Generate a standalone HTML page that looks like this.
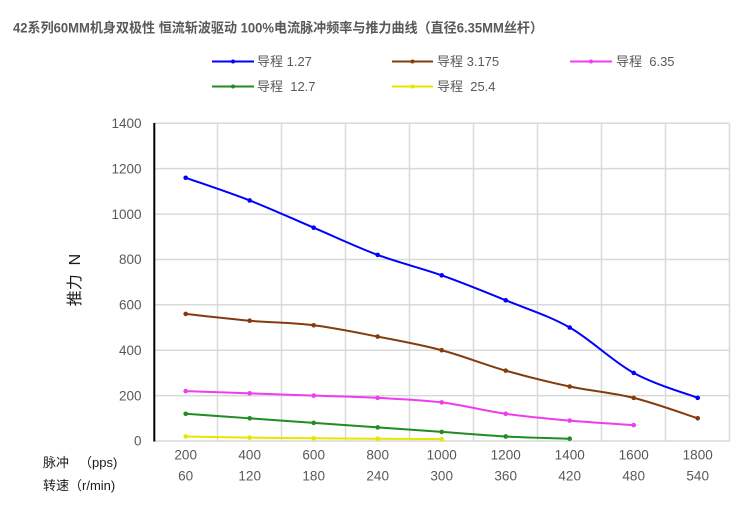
<!DOCTYPE html>
<html><head><meta charset="utf-8"><style>
html,body{margin:0;padding:0;background:#fff;}
svg{display:block;}
text{font-family:"Liberation Sans","Noto Sans CJK SC",sans-serif;}
</style></head><body>
<svg width="750" height="518" viewBox="0 0 750 518" xmlns="http://www.w3.org/2000/svg">
<rect width="750" height="518" fill="#fff"/>
<text x="13" y="32.5" font-size="13.5" font-weight="bold" fill="#595959" textLength="530" lengthAdjust="spacingAndGlyphs">42系列60MM机身双极性 恒流斩波驱动 100%电流脉冲频率与推力曲线（直径6.35MM丝杆）</text>

<!-- legend -->
<g font-size="13" fill="#595959">
<line x1="212" y1="61.5" x2="254" y2="61.5" stroke="#0000ff" stroke-width="2"/><circle cx="233" cy="61.5" r="2" fill="#0000ff"/>
<text x="257" y="66">导程 1.27</text>
<line x1="392" y1="61.5" x2="433" y2="61.5" stroke="#843c0c" stroke-width="2"/><circle cx="412.5" cy="61.5" r="2" fill="#843c0c"/>
<text x="437" y="66">导程 3.175</text>
<line x1="570" y1="61.5" x2="612" y2="61.5" stroke="#f03cf0" stroke-width="2"/><circle cx="591" cy="61.5" r="2" fill="#f03cf0"/>
<text x="616" y="66" xml:space="preserve">导程  6.35</text>
<line x1="212" y1="86.5" x2="254" y2="86.5" stroke="#228b22" stroke-width="2"/><circle cx="233" cy="86.5" r="2" fill="#228b22"/>
<text x="257" y="91" xml:space="preserve">导程  12.7</text>
<line x1="392" y1="86.5" x2="433" y2="86.5" stroke="#e6e600" stroke-width="2"/><circle cx="412.5" cy="86.5" r="2" fill="#e6e600"/>
<text x="437" y="91" xml:space="preserve">导程  25.4</text>
</g>

<!-- grid -->
<g stroke="#d9d9d9" stroke-width="1.5">
<line x1="154" y1="123.3" x2="729.5" y2="123.3"/>
<line x1="154" y1="168.6" x2="729.5" y2="168.6"/>
<line x1="154" y1="214.1" x2="729.5" y2="214.1"/>
<line x1="154" y1="259.5" x2="729.5" y2="259.5"/>
<line x1="154" y1="304.8" x2="729.5" y2="304.8"/>
<line x1="154" y1="350.2" x2="729.5" y2="350.2"/>
<line x1="154" y1="395.6" x2="729.5" y2="395.6"/>
<line x1="154" y1="441" x2="729.5" y2="441"/>
<line x1="217.5" y1="123.3" x2="217.5" y2="441"/>
<line x1="281.5" y1="123.3" x2="281.5" y2="441"/>
<line x1="345.5" y1="123.3" x2="345.5" y2="441"/>
<line x1="409.5" y1="123.3" x2="409.5" y2="441"/>
<line x1="473.5" y1="123.3" x2="473.5" y2="441"/>
<line x1="537.5" y1="123.3" x2="537.5" y2="441"/>
<line x1="601.5" y1="123.3" x2="601.5" y2="441"/>
<line x1="665.5" y1="123.3" x2="665.5" y2="441"/>
<line x1="729.5" y1="123.3" x2="729.5" y2="441"/>
</g>
<line x1="154.3" y1="123" x2="154.3" y2="441.5" stroke="#000" stroke-width="2"/>

<!-- y ticks -->
<g font-size="13.5" fill="#595959" text-anchor="end">
<text x="141.5" y="128">1400</text>
<text x="141.5" y="173.3">1200</text>
<text x="141.5" y="218.8">1000</text>
<text x="141.5" y="264.2">800</text>
<text x="141.5" y="309.5">600</text>
<text x="141.5" y="354.9">400</text>
<text x="141.5" y="400.3">200</text>
<text x="141.5" y="445.7">0</text>
</g>

<!-- x labels -->
<g font-size="13.5" fill="#595959" text-anchor="middle">
<text x="185.7" y="459.5">200</text><text x="249.7" y="459.5">400</text><text x="313.7" y="459.5">600</text><text x="377.7" y="459.5">800</text><text x="441.7" y="459.5">1000</text><text x="505.7" y="459.5">1200</text><text x="569.7" y="459.5">1400</text><text x="633.7" y="459.5">1600</text><text x="697.7" y="459.5">1800</text>
<text x="185.7" y="480.5">60</text><text x="249.7" y="480.5">120</text><text x="313.7" y="480.5">180</text><text x="377.7" y="480.5">240</text><text x="441.7" y="480.5">300</text><text x="505.7" y="480.5">360</text><text x="569.7" y="480.5">420</text><text x="633.7" y="480.5">480</text><text x="697.7" y="480.5">540</text>
</g>
<g font-size="13" fill="#1a1a1a">
<text x="43" y="467">脉冲</text>
<text x="79" y="467">（pps)</text>
<text x="43" y="490">转速（r/min)</text>
</g>
<text transform="translate(80,280) rotate(-90)" font-size="16" fill="#1a1a1a" text-anchor="middle" xml:space="preserve">推力  N</text>

<!-- series -->
<g fill="none" stroke-width="2" stroke-linejoin="round" stroke-linecap="round">
<path stroke="#0000ff" d="M185.7,177.76 C196.37,181.54 228.37,192.13 249.7,200.45 C271.03,208.77 292.37,218.61 313.7,227.69 C335.03,236.77 356.37,246.98 377.7,254.92 C399.03,262.86 420.37,267.78 441.7,275.34 C463.03,282.90 484.37,291.60 505.7,300.30 C527.03,309.00 548.37,315.43 569.7,327.53 C591.03,339.63 612.37,361.19 633.7,372.92 C655.03,384.65 687.03,393.72 697.7,397.88"/>
<path stroke="#843c0c" d="M185.7,313.92 C196.37,315.06 228.37,318.84 249.7,320.73 C271.03,322.62 292.37,322.62 313.7,325.27 C335.03,327.92 356.37,332.45 377.7,336.61 C399.03,340.77 420.37,344.56 441.7,350.23 C463.03,355.90 484.37,364.60 505.7,370.65 C527.03,376.70 548.37,382.00 569.7,386.54 C591.03,391.08 612.37,392.58 633.7,397.88 C655.03,403.18 687.03,414.90 697.7,418.31"/>
<path stroke="#f03cf0" d="M185.7,391.08 C196.37,391.46 228.37,392.59 249.7,393.34 C271.03,394.10 292.37,394.85 313.7,395.61 C335.03,396.37 356.37,396.75 377.7,397.88 C399.03,399.02 420.37,399.77 441.7,402.42 C463.03,405.07 484.37,410.74 505.7,413.77 C527.03,416.80 548.37,418.69 569.7,420.58 C591.03,422.47 623.03,424.36 633.7,425.11"/>
<path stroke="#228b22" d="M185.7,413.77 C196.37,414.53 228.37,416.80 249.7,418.31 C271.03,419.82 292.37,421.34 313.7,422.85 C335.03,424.36 356.37,425.87 377.7,427.38 C399.03,428.89 420.37,430.41 441.7,431.92 C463.03,433.43 484.37,435.33 505.7,436.46 C527.03,437.60 559.03,438.35 569.7,438.73"/>
<path stroke="#e6e600" d="M185.7,436.46 C196.37,436.65 228.37,437.30 249.7,437.60 C271.03,437.90 292.37,438.09 313.7,438.28 C335.03,438.47 356.37,438.58 377.7,438.73 C399.03,438.88 431.03,439.11 441.7,439.18"/>
</g>

<!-- markers -->
<g fill="#0000ff">
<circle cx="185.7" cy="177.76" r="2.3"/><circle cx="249.7" cy="200.45" r="2.3"/><circle cx="313.7" cy="227.69" r="2.3"/><circle cx="377.7" cy="254.92" r="2.3"/><circle cx="441.7" cy="275.34" r="2.3"/><circle cx="505.7" cy="300.30" r="2.3"/><circle cx="569.7" cy="327.53" r="2.3"/><circle cx="633.7" cy="372.92" r="2.3"/><circle cx="697.7" cy="397.88" r="2.3"/>
</g>
<g fill="#843c0c">
<circle cx="185.7" cy="313.92" r="2.3"/><circle cx="249.7" cy="320.73" r="2.3"/><circle cx="313.7" cy="325.27" r="2.3"/><circle cx="377.7" cy="336.61" r="2.3"/><circle cx="441.7" cy="350.23" r="2.3"/><circle cx="505.7" cy="370.65" r="2.3"/><circle cx="569.7" cy="386.54" r="2.3"/><circle cx="633.7" cy="397.88" r="2.3"/><circle cx="697.7" cy="418.31" r="2.3"/>
</g>
<g fill="#f03cf0">
<circle cx="185.7" cy="391.08" r="2.3"/><circle cx="249.7" cy="393.34" r="2.3"/><circle cx="313.7" cy="395.61" r="2.3"/><circle cx="377.7" cy="397.88" r="2.3"/><circle cx="441.7" cy="402.42" r="2.3"/><circle cx="505.7" cy="413.77" r="2.3"/><circle cx="569.7" cy="420.58" r="2.3"/><circle cx="633.7" cy="425.11" r="2.3"/>
</g>
<g fill="#228b22">
<circle cx="185.7" cy="413.77" r="2.3"/><circle cx="249.7" cy="418.31" r="2.3"/><circle cx="313.7" cy="422.85" r="2.3"/><circle cx="377.7" cy="427.38" r="2.3"/><circle cx="441.7" cy="431.92" r="2.3"/><circle cx="505.7" cy="436.46" r="2.3"/><circle cx="569.7" cy="438.73" r="2.3"/>
</g>
<g fill="#e6e600">
<circle cx="185.7" cy="436.46" r="2.3"/><circle cx="249.7" cy="437.60" r="2.3"/><circle cx="313.7" cy="438.28" r="2.3"/><circle cx="377.7" cy="438.73" r="2.3"/><circle cx="441.7" cy="439.18" r="2.3"/>
</g>
</svg>
</body></html>
